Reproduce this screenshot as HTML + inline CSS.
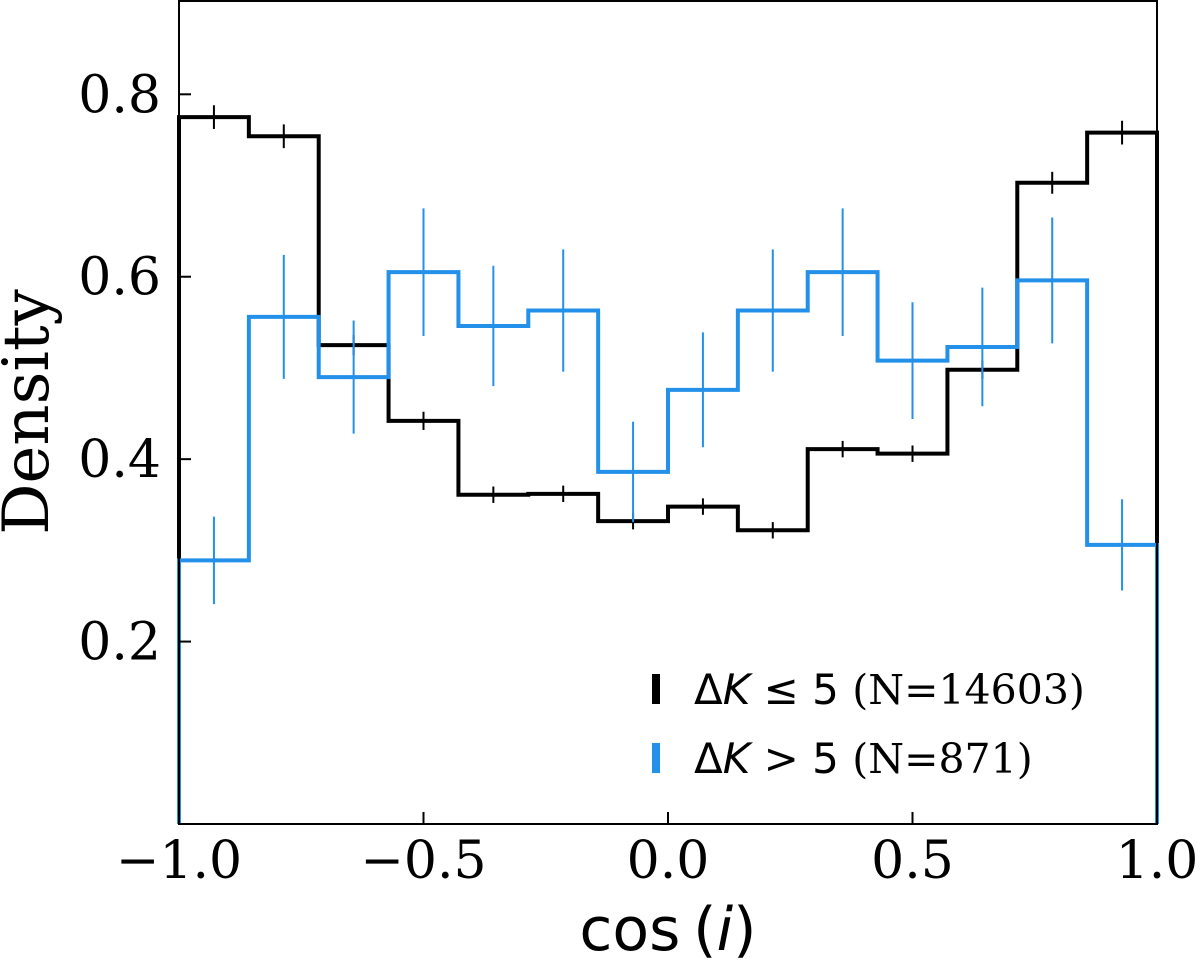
<!DOCTYPE html>
<html><head><meta charset="utf-8"><style>
body{margin:0;background:#fff;}
svg{display:block;}
</style></head><body>
<svg id="chart" width="1200" height="964" xmlns="http://www.w3.org/2000/svg">
<g id="plot"></g>
</svg>
<script>
const binEdgesStart = -1, binEdgesEnd = 1, nBins = 14;
const blackValues = [0.775,0.754,0.525,0.442,0.361,0.362,0.332,0.348,0.322,0.411,0.406,0.498,0.703,0.758];
const blackErrors = [0.013,0.013,0.011,0.01,0.009,0.009,0.009,0.009,0.009,0.009,0.009,0.01,0.012,0.013];
const blueValues = [0.289,0.556,0.490,0.605,0.546,0.563,0.386,0.476,0.563,0.605,0.508,0.523,0.596,0.306];
const blueErrors = [0.048,0.068,0.062,0.070,0.066,0.067,0.055,0.063,0.067,0.070,0.064,0.065,0.069,0.050];
const xTicks = [-1.0,-0.5,0.0,0.5,1.0];
const xTickLabels = ["\u22121.0","\u22120.5","0.0","0.5","1.0"];
const yTicks = [0.2,0.4,0.6,0.8];
const yTickLabels = ["0.2","0.4","0.6","0.8"];

const L=179,R=1157,T=1,B=824, yMin=0, yMax=0.9023;
const xs=v=>L+(v-binEdgesStart)/(binEdgesEnd-binEdgesStart)*(R-L);
const ys=v=>B-(v-yMin)/(yMax-yMin)*(B-T);
const NS="http://www.w3.org/2000/svg";
const g=document.getElementById('plot');
function mk(tag,attrs,parent){const e=document.createElementNS(NS,tag);for(const k in attrs)e.setAttribute(k,attrs[k]);(parent||g).appendChild(e);return e;}
const w=(binEdgesEnd-binEdgesStart)/nBins;

function drawSeries(vals,errs,color,name){
  let d=`M${xs(-1)},${ys(0)}`;
  vals.forEach((v,i)=>{d+=` L${xs(-1+i*w)},${ys(v)} L${xs(-1+(i+1)*w)},${ys(v)}`;});
  d+=` L${xs(1)},${ys(0)}`;
  const p=mk('path',{d:d,fill:'none',stroke:color,'stroke-width':4});
  
  
  vals.forEach((v,i)=>{
    const cx=xs(-1+(i+0.5)*w);
    const e=mk('line',{x1:cx,x2:cx,y1:ys(v-errs[i]),y2:ys(v+errs[i]),stroke:color,'stroke-width':2});
    
    
  });
}
drawSeries(blackValues,blackErrors,'#000','black-series');
drawSeries(blueValues,blueErrors,'#2390ea','blue-series');

const frame=mk('rect',{x:L,y:T,width:R-L,height:B-T,fill:'none',stroke:'#000','stroke-width':2});



xTicks.forEach((t,i)=>{
  const x=xs(t);
  const tk=mk('line',{x1:x,x2:x,y1:B,y2:B-12,stroke:'#000','stroke-width':2});
  
  
  const tx=mk('text',{x:x,y:B+54,'text-anchor':'middle','font-family':'DejaVu Serif, serif','font-size':52});
  tx.textContent=xTickLabels[i];
  
  
});
yTicks.forEach((t,i)=>{
  const y=ys(t);
  const tk=mk('line',{x1:L,x2:L+12,y1:y,y2:y,stroke:'#000','stroke-width':2});
  
  
  const tx=mk('text',{x:L-18,y:y+18,'text-anchor':'end','font-family':'DejaVu Serif, serif','font-size':52});
  tx.textContent=yTickLabels[i];
  
  
});
</script>
<svg style="position:absolute;left:0;top:0" width="1200" height="964" xmlns="http://www.w3.org/2000/svg">
<text transform="translate(48,412) rotate(-90)" text-anchor="middle" font-family="DejaVu Serif, serif" font-size="64">Density</text>
<text x="668" y="950" text-anchor="middle" font-family="DejaVu Sans, Liberation Sans, sans-serif" font-size="60">cos<tspan font-size="40"> </tspan>(<tspan font-style="italic">i</tspan>)</text>
<g>
<rect x="652" y="674" width="8" height="30" fill="#000"/>
<text x="694" y="704" font-family="DejaVu Sans, sans-serif" font-size="42">Δ<tspan font-style="italic">K</tspan> ≤ 5 <tspan font-family="DejaVu Serif, serif" font-size="41">(N=14603)</tspan></text>
<rect x="652" y="743" width="8" height="30" fill="#2390ea"/>
<text x="694" y="773" font-family="DejaVu Sans, sans-serif" font-size="42">Δ<tspan font-style="italic">K</tspan> &gt; 5 <tspan font-family="DejaVu Serif, serif" font-size="41">(N=871)</tspan></text>
</g>
</svg>
</body></html>
